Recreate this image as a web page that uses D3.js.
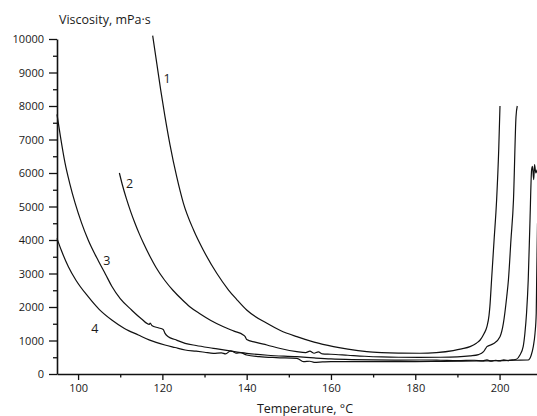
<!DOCTYPE html>
<html>
<head>
<meta charset="utf-8">
<script src="https://cdn.jsdelivr.net/npm/d3@7"></script>
<style>
  body { margin: 0; background: #fff; }
  text { font-family: "Open Sans", sans-serif; fill: #1a1a1a; }
  .axis-title { font-size: 12.5px; }
  .curve-label { font-size: 12.5px; }
</style>
</head>
<body>
<div id="chart"></div>
<script>

// Data: [temperature °C, viscosity mPa·s]
var curve1 = [[117.7,10100],[118.7,9250],[119.6,8480],[120.6,7700],[121.8,6850],[123.4,5890],
  [125.0,5095],[127.4,4298],[129.7,3701],[132.9,3006],[135.7,2507],[137.6,2230],[140.0,1910],
  [144.8,1513],[148,1300],[151.9,1114],[156,950],[160.6,816],[164,740],[168.5,667],[172,640],
  [176,625],[181.1,620],[185,640],[189.0,700],[191,750],[193.0,816],[194.5,920],[195.4,1015],
  [196.3,1200],[197.0,1412],[197.5,1750],[197.7,2010],[198.1,2806],[198.7,4000],[199.3,5194],
  [199.8,6700],[200.1,8000]];

var curve2 = [[109.8,6000],[110.5,5650],[111.5,5220],[112.5,4840],[113.5,4500],[114.5,4190],
  [115.5,3910],[117.1,3500],[118.5,3180],[120.5,2806],[122.5,2500],[124.6,2230],[126.5,2010],
  [128.9,1800],[131.5,1600],[134.5,1412],[137,1280],[139.2,1164],[139.6,1120],[140,1030],
  [142,950],[144.8,866],[148,760],[151.9,667],[154,640],[155,680],[156,620],[157,660],[158,600],
  [160,590],[164,560],[168,530],[172,510],[176,500],[181,498],[186,500],[190,510],[193,540],
  [195,580],[196.2,667],[196.6,740],[197,816],[198.5,900],[200.1,1114],[200.9,1512],[201.7,2307],
  [202.1,2806],[202.7,4000],[203.3,5194],[203.9,7681],[204.2,8000]];

var curve3 = [[95.0,7750],[95.8,7100],[96.9,6300],[98,5700],[99.3,5100],[100.8,4520],
  [102.4,4000],[104.8,3380],[106.5,2980],[108.0,2620],[110,2250],[112.7,1910],
  [115,1650],[116.9,1480],[117.1,1520],[117.5,1450],[119,1380],[120.2,1330],[120.6,1220],
  [121.4,1114],[123,1030],[125.4,916],[128,850],[132.1,767],[136,690],[140,618],[145,560],
  [151.9,516],[156,480],[160,450],[165,430],[170,420],[175,415],[181,418],[186,410],[190,400],
  [194,410],[196,390],[197,420],[198,380],[199,410],[200,390],[201,420],[202,400],[203,420],
  [204.0,440],[204.8,560],[205.6,816],[206.0,1200],[206.4,1812],[206.8,2806],[207.2,4500],
  [207.6,6090],[207.8,6200],[208.1,5800],[208.3,6250],[208.6,6000],[208.9,6100]];

var curve4 = [[95.0,4050],[96,3700],[97.7,3203],[99.5,2800],[102.4,2307],[105,1930],[108,1612],
  [111,1360],[114.3,1164],[117,1010],[120.6,866],[123,790],[125.4,716],[128,680],[130,650],
  [132.1,618],[134,630],[135,600],[136.2,690],[136.8,667],[137.5,620],[138.5,640],[140,567],
  [143,520],[147,490],[151.9,468],[152.7,418],[153.5,370],[155,380],[156,350],[158,360],
  [160,368],[165,370],[170,368],[175,372],[180,370],[185,375],[190,380],[195,390],[200,400],
  [204,410],[206.8,418],[207.5,560],[208,816],[208.4,1200],[208.7,1812],[208.8,2806],[209,4500]];

var curves = [curve1, curve2, curve3, curve4];

// Curve labels, placed in data units
var curveLabels = ["1", "2", "3", "4"];
var labelPos = [[121.1,8700], [112.2,5560], [106.8,3260], [104.0,1230]];

var xTicks = [100, 120, 140, 160, 180, 200];
var xMinorTicks = [110, 130, 150, 170, 190];
var yTicks = [0, 1000, 2000, 3000, 4000, 5000, 6000, 7000, 8000, 9000, 10000];
var yMinorTicks = [500, 1500, 2500, 3500, 4500, 5500, 6500, 7500, 8500, 9500];

var xTitle = "Temperature, °C";
var yTitle = "Viscosity, mPa·s";

// --> SVG
var width = 537,
    height = 416;

var svg = d3.select("#chart").append("svg")
        .attr("width", width)
        .attr("height", height);

var x = d3.scaleLinear()
        .domain([95, 209])
        .range([57, 537.5]);

var y = d3.scaleLinear()
        .domain([0, 10000])
        .range([374, 39]);

var line = d3.line()
        .curve(d3.curveMonotoneX)
        .x(function(d) { return x(d[0]); })
        .y(function(d) { return y(d[1]); });

// Curves
svg.selectAll(".curve")
    .data(curves)
    .enter().append("path")
    .attr("class", "curve")
    .attr("d", line)
    .attr("fill", "none")
    .attr("stroke", "#111")
    .attr("stroke-width", 1.2)
    .attr("stroke-linejoin", "round");

svg.selectAll(".curve-label")
    .data(curveLabels)
    .enter().append("text")
    .attr("class", "curve-label")
    .attr("x", function(d, i) { return x(labelPos[i][0]); })
    .attr("y", function(d, i) { return y(labelPos[i][1]); })
    .attr("text-anchor", "middle")
    .text(function(d) { return d; });

// Axes
var xAxis = d3.axisBottom(x)
        .tickValues(xTicks)
        .tickFormat(d3.format("d"))
        .tickSizeInner(6)
        .tickSizeOuter(0)
        .tickPadding(4);

var xMinor = d3.axisBottom(x)
        .tickValues(xMinorTicks)
        .tickSize(3.5)
        .tickFormat("");

var yAxis = d3.axisLeft(y)
        .tickValues(yTicks)
        .tickFormat(d3.format("d"))
        .tickSizeInner(8)
        .tickSizeOuter(0)
        .tickPadding(5);

var yMinor = d3.axisLeft(y)
        .tickValues(yMinorTicks)
        .tickSize(4)
        .tickFormat("");

svg.append("g")
    .attr("transform", "translate(0," + y(0) + ")")
    .call(xAxis);
svg.append("g")
    .attr("transform", "translate(0," + y(0) + ")")
    .call(xMinor)
    .select(".domain").remove();

svg.append("g")
    .attr("transform", "translate(" + x(95) + ",0)")
    .call(yAxis);
svg.append("g")
    .attr("transform", "translate(" + x(95) + ",0)")
    .call(yMinor)
    .select(".domain").remove();

svg.selectAll(".tick line")
    .attr("stroke", "#111")
    .attr("stroke-width", 1.3);
svg.selectAll(".domain")
    .attr("stroke", "#111")
    .attr("stroke-width", 1.6);
svg.selectAll(".tick text")
    .attr("fill", "#1a1a1a")
    .style("font-family", "'Open Sans', sans-serif")
    .style("font-size", "11px");

// Axis titles
svg.append("text")
    .attr("class", "axis-title")
    .attr("x", 59)
    .attr("y", 24)
    .text(yTitle);

svg.append("text")
    .attr("class", "axis-title")
    .attr("x", 305)
    .attr("y", 413)
    .attr("text-anchor", "middle")
    .text(xTitle);

</script>
</body>
</html>
